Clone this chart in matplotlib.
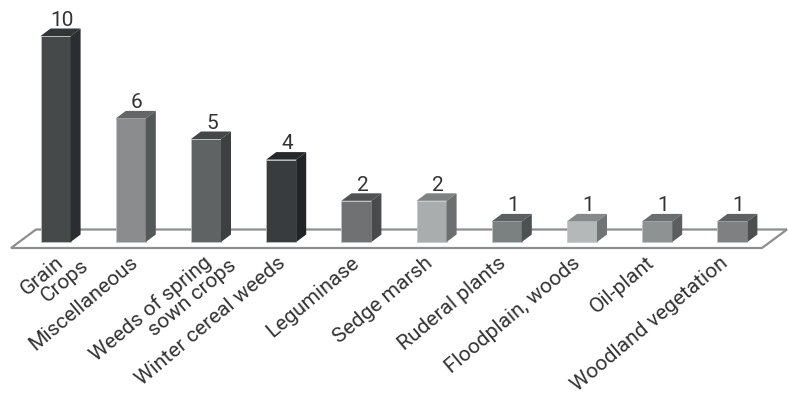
import matplotlib
matplotlib.use("Agg")
import matplotlib.pyplot as plt
from matplotlib.patches import Polygon

labels = ["Grain\nCrops", "Miscellaneous", "Weeds of spring\nsown crops", "Winter cereal weeds",
          "Leguminase", "Sedge marsh", "Ruderal plants", "Floodplain, woods", "Oil-plant", "Woodland vegetation"]
values = [10, 6, 5, 4, 2, 2, 1, 1, 1, 1]
front_colors = ["#454949", "#8a8c8e", "#5f6364", "#383c3f", "#6f7173", "#a9adae", "#7b8081", "#b4b8b8", "#8e9293", "#7e8082"]
top_colors = ["#323637", "#636566", "#434748", "#26292b", "#505253", "#7f8283", "#5c6061", "#86898a", "#6b6e6f", "#5e6061"]
side_colors = ["#2a2e30", "#545858", "#3c4041", "#212527", "#484a4c", "#6c6f70", "#4d5152", "#717475", "#5b5e5f", "#4c4e50"]

W, H = 788, 394
X0, DX = 55.6, 75.2       # pixel of first category, pixels per category
Y0, DY = 242.0, 20.6      # pixel of baseline, pixels per unit
BAR = 30 / DX
DEPTH_X = 10 / DX
DEPTH_Y = 7.5 / DY
LABEL_X0, LABEL_DX = 55.0, 73.8

fig = plt.figure(figsize=(W / 100, H / 100), dpi=100, facecolor="white")
ax = fig.add_axes([0, 0, 1, 1])
ax.set_xlim(-X0 / DX, (W - X0) / DX)
ax.set_ylim((Y0 - H) / DY, Y0 / DY)
ax.axis("off")

fx = lambda p: (p - X0) / DX
fy = lambda p: (Y0 - p) / DY
ax.add_patch(Polygon([(fx(11), fy(248)), (fx(36), fy(229.5)), (fx(787), fy(229.5)), (fx(762), fy(248))],
                     closed=True, facecolor="white", edgecolor="#8c8e8f", lw=1.6, zorder=1))

for i, (v, fc, tc, sc) in enumerate(zip(values, front_colors, top_colors, side_colors)):
    l, r = i - BAR / 2, i + BAR / 2
    ax.bar(i, v, width=BAR, color=fc, edgecolor="#c4c6c6", linewidth=0.5, zorder=3)
    ax.add_patch(Polygon([(l, v), (l + DEPTH_X, v + DEPTH_Y), (r + DEPTH_X, v + DEPTH_Y), (r, v)],
                         closed=True, facecolor=tc, edgecolor="none", zorder=3))
    ax.add_patch(Polygon([(r, 0), (r + DEPTH_X, DEPTH_Y), (r + DEPTH_X, v + DEPTH_Y), (r, v)],
                         closed=True, facecolor=sc, edgecolor="none", zorder=3))
    ax.text(i + DEPTH_X / 2 + 0.015, v + DEPTH_Y - 0.06, str(v), ha="center", va="bottom",
            fontsize=15, family="Roboto", color="#333333", zorder=4)
    for k, line in enumerate(labels[i].split("\n")):
        ax.annotate(line, xy=(fx(LABEL_X0 + LABEL_DX * i), fy(253)), xycoords="data",
                    xytext=(25 * k, -3 * k), textcoords="offset pixels",
                    rotation=40, rotation_mode="anchor", ha="right", va="top",
                    fontsize=15.1, family="Roboto", color="#333333")

fig.savefig("out.png", dpi=100, facecolor="white")
